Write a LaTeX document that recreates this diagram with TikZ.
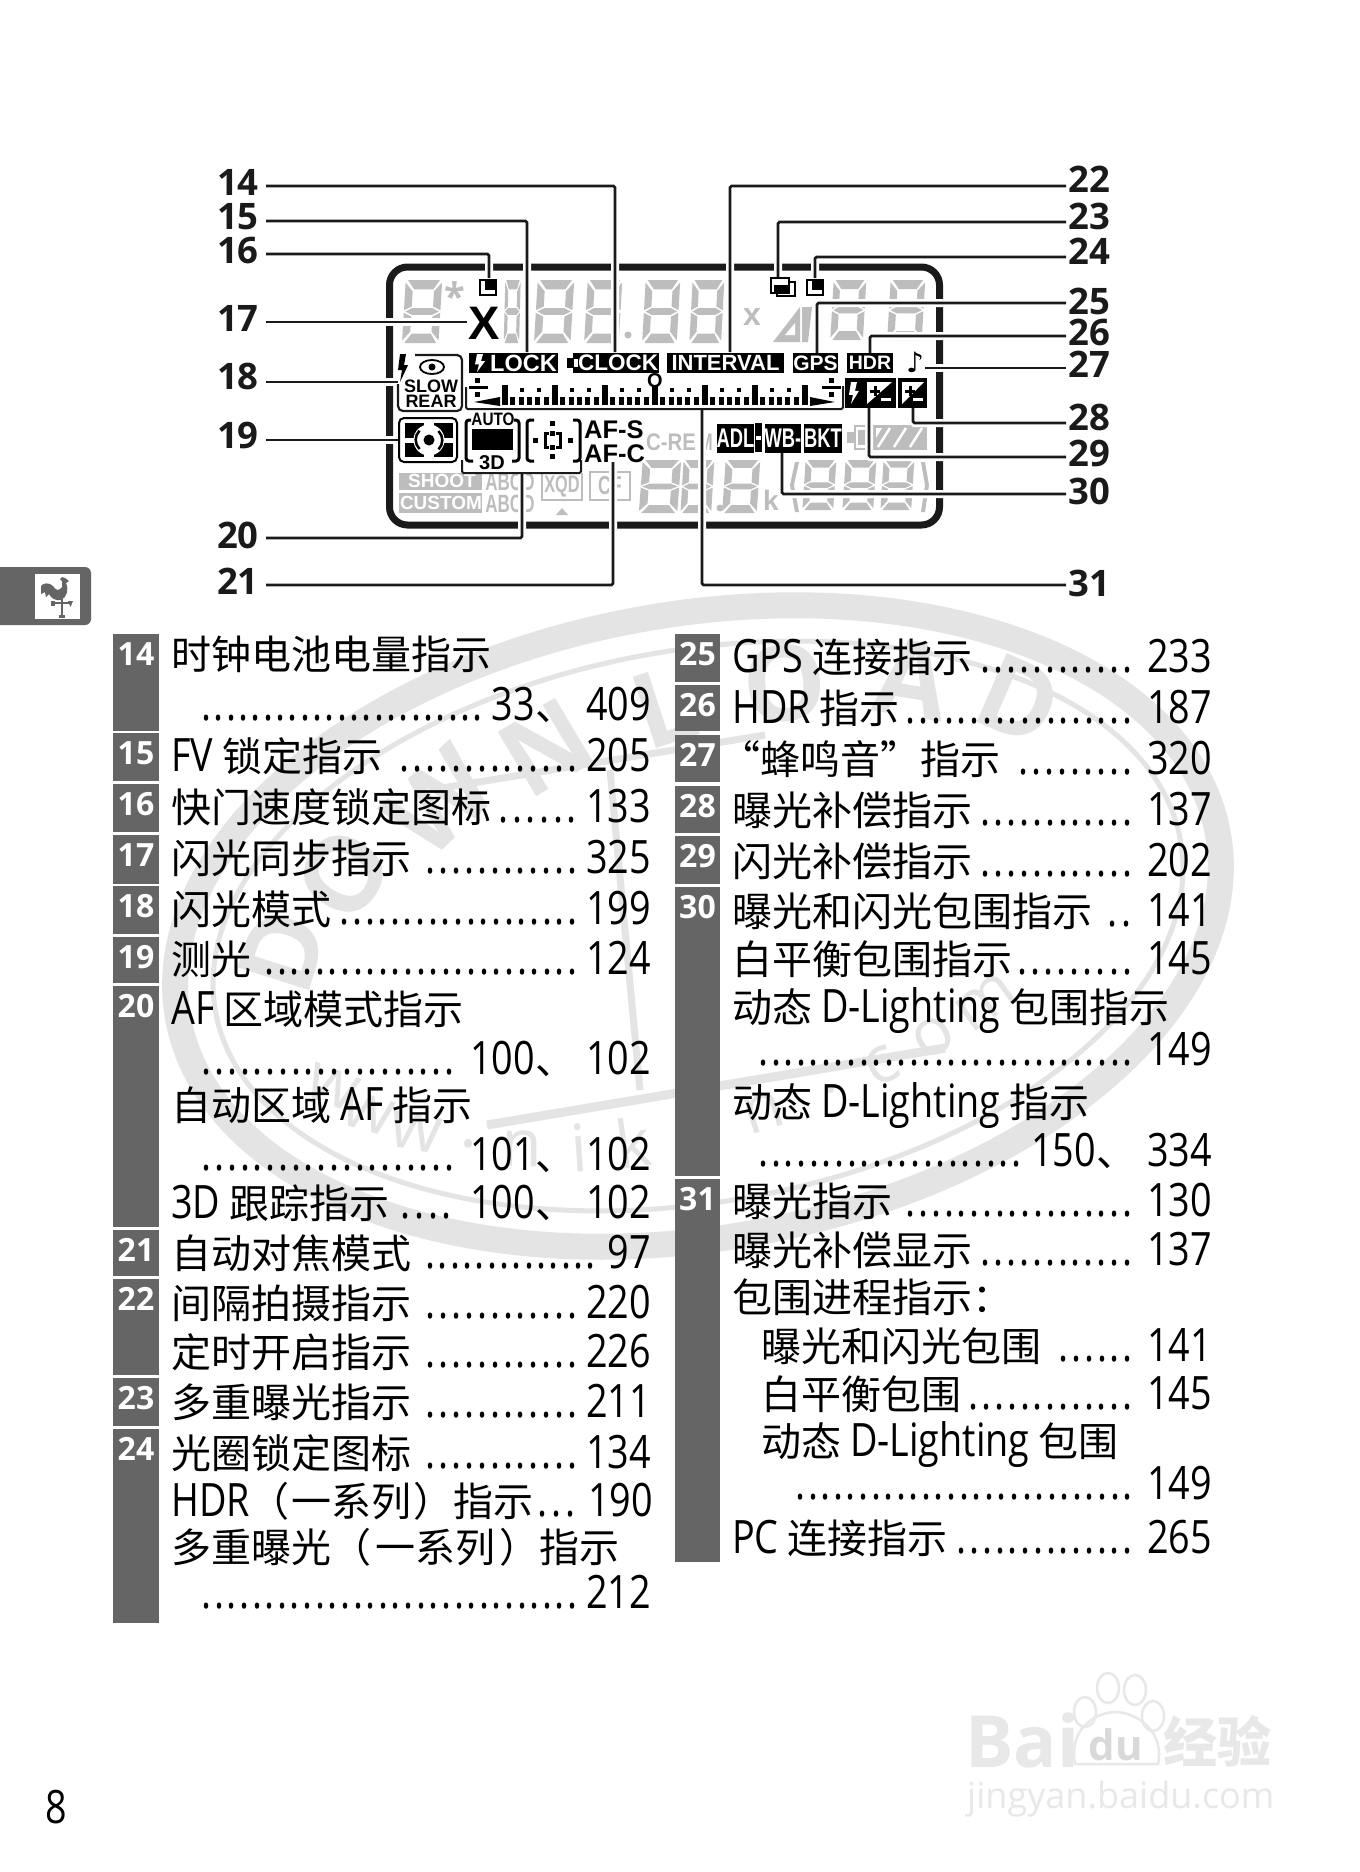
\documentclass[tikz,border=0pt]{standalone}
\usepackage{fontspec}
\setmainfont{Open Sans}
\newfontfamily\nar{Open Sans}[FakeStretch=0.82]
\newfontfamily\cj{Noto Sans CJK SC}
\newfontfamily\lcd{Liberation Sans}
\newfontfamily\lcdc{Liberation Sans}[FakeStretch=0.85]
\newfontfamily\lcdn{Liberation Sans}[FakeStretch=0.68]
\newfontfamily\opn{Open Sans}
\definecolor{seg}{HTML}{BDBDBD}
\definecolor{wm}{HTML}{E4E4E4}
\definecolor{barc}{HTML}{656565}
\definecolor{ink}{HTML}{1A1A1A}
\newcounter{ni}
\newcommand{\ltn}[1]{{\nar\fontsize{46}{46}\selectfont #1}}
\newcommand{\dun}{{\cj\fontsize{40}{40}\selectfont 、}\hspace{11pt}}
\tikzset{
  lab/.style={inner sep=0pt,anchor=base west,font=\cj\fontsize{40}{40}\selectfont,text=black},
  pagen/.style={inner sep=0pt,anchor=base east,font=\nar\fontsize{46}{46}\selectfont,text=black},
  dotsn/.style={inner sep=0pt,anchor=base west,font=\nar\fontsize{46}{46}\selectfont,text=black},
  barn/.style={inner sep=0pt,anchor=base,font=\opn\bfseries\fontsize{32}{32}\selectfont,text=white},
  calln/.style={inner sep=0pt,font=\opn\bfseries\fontsize{36.5}{36.5}\selectfont,text=ink},
  conn/.style={draw=ink,line width=2.6pt,rounded corners=1.5pt,preaction={draw=white,line width=8pt}},
  thinb/.style={draw=ink,line width=2pt,rounded corners=1.5pt},
  blk/.style={fill=black,text=white,inner sep=0pt,font=\lcd\bfseries\fontsize{22}{22}\selectfont},
  grayt/.style={inner sep=0pt,text=seg,font=\lcd\bfseries\fontsize{22}{22}\selectfont},
  blkt/.style={inner sep=0pt,text=black,font=\lcd\bfseries\fontsize{18}{18}\selectfont},
  wmt/.style={inner sep=0pt,text=wm,font=\opn\bfseries\fontsize{105}{105}\selectfont},
  wmu/.style={inner sep=0pt,text=wm,font=\opn\fontsize{66}{66}\selectfont},
  bd/.style={inner sep=0pt,text=black!9,font=\opn\bfseries\fontsize{72}{72}\selectfont},
}
\newcommand{\ent}[3]{\stepcounter{ni}\node[lab] (t\arabic{ni}) at (#2,#1) {#3};}
\newcommand{\pg}[3]{\stepcounter{ni}\node[pagen] (t\arabic{ni}) at (#2,#1) {#3};}
\newcommand{\dts}[3]{\stepcounter{ni}\pgfmathsetmacro{\dw}{#3-#2}\node[dotsn] (t\arabic{ni}) at (#2,#1) {\hbox to \dw pt{\xleaders\hbox to 12.3pt{\hss.\hss}\hfill}};}
\newcommand{\barr}[5]{\fill[barc] (#1,#2) rectangle (#3,#4);\stepcounter{ni}\node[barn] (t\arabic{ni}) at ({(#1+#3)/2},{#2+31}) {#5};}
\newcommand{\segd}[4]{\begin{scope}[shift={(#1,#2)},xscale=#3/100,yscale=#4/100,xslant=0.1]
\fill[seg] (8,0)--(92,0)--(76,15)--(26,15)--cycle;
\fill[seg] (8,100)--(92,100)--(76,85)--(26,85)--cycle;
\fill[seg] (2,4)--(22,18)--(22,42)--(2,48)--cycle;
\fill[seg] (98,4)--(78,18)--(78,42)--(98,48)--cycle;
\fill[seg] (6,50)--(24,44.5)--(76,44.5)--(94,50)--(76,55.5)--(24,55.5)--cycle;
\fill[seg] (2,52)--(22,58)--(22,82)--(2,96)--cycle;
\fill[seg] (98,52)--(78,58)--(78,82)--(98,96)--cycle;
\end{scope}}
\newcommand{\flashb}[4]{\fill[#4] (#1,#2) ++(3,0) -- ++(6,0) -- ++(-2,{#3*.4}) -- ++(4,0) -- ++(-8,{#3*.6}) -- ++(2,{-#3*.42}) -- ++(-4,0) -- cycle;}
\newcommand{\pmbox}[4]{% white upper-left triangle with black plus, white minus on black
\fill[white] (#1,#2) -- (#3,#2) -- (#1,#4) -- cycle;
\fill[black] ({#1+3},{#2+7.5}) rectangle ({#1+13},{#2+10.5});
\fill[black] ({#1+6.5},{#2+4}) rectangle ({#1+9.5},{#2+14});
\fill[white] ({#3-11},{#4-6}) rectangle ({#3-1},{#4-3});}
\begin{document}
\begin{tikzpicture}[x=1pt,y=-1pt]
\useasboundingbox (0,0) rectangle (1360,1872);
\fill[white] (0,0) rectangle (1360,1872);
% ---- background watermark
\begin{scope}[shift={(698,926)},rotate=10]
\draw[wm,line width=26pt] (0,0) ellipse [x radius=528,y radius=312];
\draw[wm,line width=5pt] (0,0) ellipse [x radius=490,y radius=276];
\end{scope}
\draw[wm,line width=9pt] (487,1125) -- (945,1048);
\draw[wm,line width=7pt] (442,788) -- (765,735);
\draw[wm,line width=7pt] (610,770) -- (640,1090);
\foreach \a/\c/\k in {168/D/1,150/O/2,132/W/3,116/N/4,100/L/5,84/O/6,66/A/7,48/D/8}{
  \pgfmathsetmacro{\px}{698+440*cos(\a)*cos(10)+240*sin(\a)*sin(10)}
  \pgfmathsetmacro{\py}{926-440*cos(\a)*sin(10)-240*sin(\a)*cos(10)}
  \pgfmathsetmacro{\rt}{(\a-90)*0.8+10}
  \node[wmt,rotate=\rt] (wma\k) at (\px,\py) {\c};
}
\foreach \a/\c/\k in {208/w/1,219/w/2,230/w/3,240/./4,249/n/5,258/i/6,266/k/7,275/o/8,285/n/9,295/./10,303/c/11,312/o/12,322/m/13}{
  \pgfmathsetmacro{\px}{698+400*cos(\a)*cos(10)+215*sin(\a)*sin(10)}
  \pgfmathsetmacro{\py}{926-400*cos(\a)*sin(10)-215*sin(\a)*cos(10)}
  \pgfmathsetmacro{\rt}{(\a-270)*0.5+10}
  \node[wmu,rotate=\rt] (wmb\k) at (\px,\py) {\c};
}
% ---- Baidu mark
\node[bd,anchor=base west] (bai) at (965,1767) {Bai};
\begin{scope}[black!9,line width=2.5pt]
\draw (1075,1764) .. controls (1068,1725) and (1100,1712) .. (1115,1712) .. controls (1135,1712) and (1165,1730) .. (1158,1764) -- cycle;
\draw (1085,1712) ellipse [x radius=11,y radius=15];
\draw (1108,1688) ellipse [x radius=11,y radius=15];
\draw (1135,1690) ellipse [x radius=11,y radius=15];
\draw (1153,1716) ellipse [x radius=11,y radius=15];
\end{scope}
\node[inner sep=0pt,anchor=base,text=black!15,font=\opn\bfseries\fontsize{42}{42}\selectfont] (du) at (1116,1760) {du};
\node[inner sep=0pt,anchor=base west,text=black!9,font=\cj\bfseries\fontsize{54}{54}\selectfont] (jy) at (1163,1762) {经验};
\node[inner sep=0pt,anchor=base west,text=black!9,font=\opn\fontsize{36}{36}\selectfont] (jyu) at (967,1808) {jingyan.baidu.com};
% ---- side tab
\fill[barc,rounded corners=6pt] (-10,567) rectangle (91,625);
\fill[white] (35,574) rectangle (80,619);
\fill[barc] (41,586) .. controls (43,583) and (49,582) .. (53,586) .. controls (56,591) and (59,591) .. (62,587) -- (62,581) -- (60,579) -- (62,577) -- (65,578) -- (69,581) -- (66,583) .. controls (69,590) and (67,597) .. (61,600) .. controls (55,601) and (51,598) .. (49,594) -- (46,597) -- (45,592) -- (41,594) -- cycle;
\draw[barc,line width=1.4pt] (62,598) -- (62,615) (53,603) -- (72,603);
\fill[barc] (59,615) rectangle (65,618);
\fill[barc] (51,601) rectangle (55,606);
\fill[barc] (68,601) -- (73,601) -- (70.5,607) -- cycle;
% ---- gray LCD
\foreach \x/\y/\w/\h in {405/280/38/63, 505/280/16/63, 537/280/38/63, 587/280/36/63, 645/280/36/63, 692/280/33/63, 833/280/34/60, 890/280/36/60, 642/460/40/53, 683/460/32/53, 725/460/36/53, 805/460/32/50, 845/460/32/50, 883/460/32/50}{\segd{\x}{\y}{\w}{\h}}
\fill[seg] (628,335) circle (3.5);
\fill[seg] (720,508) circle (3.5);
\node[grayt,font=\opn\bfseries\fontsize{38}{38}\selectfont,anchor=center] (star) at (455,296) {*};
\node[grayt,font=\lcd\bfseries\fontsize{32}{32}\selectfont] (xm) at (752,317) {x};
\fill[seg] (773,342) -- (800,307) -- (800,342) -- cycle;
\fill[white] (785,335) -- (795,323) -- (795,335) -- cycle;
\fill[seg] (802,307) -- (812,307) -- (808,342) -- (802,342) -- cycle;
\node[grayt,font=\lcdc\bfseries\fontsize{24}{24}\selectfont] (cre) at (671,442) {C-RE};
\node[grayt,font=\lcdn\bfseries\fontsize{24}{24}\selectfont] (mm) at (706,442) {M};
\fill[seg] (399,473) rectangle (482,490);
\fill[seg] (399,493) rectangle (482,513);
\node[inner sep=0pt,text=white,font=\lcd\bfseries\fontsize{19}{19}\selectfont] (shoot) at (442,481) {SHOOT};
\node[inner sep=0pt,text=white,font=\lcd\bfseries\fontsize{19}{19}\selectfont] (custom) at (441,503) {CUSTOM};
\node[grayt,font=\lcdn\bfseries\fontsize{25}{25}\selectfont] (abcd1) at (510,482) {ABCD};
\node[grayt,font=\lcdn\bfseries\fontsize{25}{25}\selectfont] (abcd2) at (510,504) {ABCD};
\draw[seg,line width=2pt] (542,473) -- (542,500) -- (582,500) -- (582,473);
\node[grayt,font=\lcdn\bfseries\fontsize{24}{24}\selectfont] (xqd) at (562,486) {XQD};
\fill[seg] (556,515) -- (568,515) -- (562,508) -- cycle;
\draw[seg,line width=2pt] (590,472) rectangle (630,500);
\node[grayt,font=\lcdn\bfseries\fontsize{26}{26}\selectfont] (cf) at (610,486) {CF};
\fill[seg] (795,462) -- (790,485) -- (795,512) -- (799,512) -- (794,485) -- (799,462) -- cycle;
\fill[seg] (925,462) -- (929,485) -- (925,512) -- (921,512) -- (925,485) -- (921,462) -- cycle;
\node[grayt,font=\lcd\bfseries\fontsize{28}{28}\selectfont] (kk) at (771,500) {k};
% battery
\fill[seg] (847,432) rectangle (854,443);
\draw[seg,line width=2pt] (855,426) rectangle (869,449);
\fill[seg] (858,430) rectangle (866,445);
\fill[seg] (873,425) rectangle (927,450);
\foreach \x in {884,900,916}{\draw[white,line width=2.5pt] (\x+6,428) -- (\x-6,447);}
\fill[white] (876,428) -- (882,428) -- (876,438) -- cycle;
% ---- frame
\draw[ink,line width=7pt,rounded corners=18pt] (389.5,267) rectangle (939.5,525);
% ---- connectors
\coordinate (l14) at (266,186); \coordinate (e14) at (615,352);
\coordinate (l15) at (266,221); \coordinate (e15) at (527,352);
\coordinate (l16) at (266,254); \coordinate (e16) at (489,278);
\coordinate (l17) at (266,322); \coordinate (e17) at (467,322);
\coordinate (l18) at (266,382); \coordinate (e18) at (398,382);
\coordinate (l19) at (266,440); \coordinate (e19) at (398,440);
\coordinate (l20) at (266,538); \coordinate (e20) at (522,473);
\coordinate (l21) at (266,585); \coordinate (e21) at (613,462);
\coordinate (r22) at (1066,186); \coordinate (e22) at (730,352);
\coordinate (r23) at (1066,222); \coordinate (e23) at (778,277);
\coordinate (r24) at (1066,257); \coordinate (e24) at (815,278);
\coordinate (r25) at (1066,303); \coordinate (e25) at (817,353);
\coordinate (r26) at (1066,336); \coordinate (e26) at (870,353);
\coordinate (r27) at (1066,368); \coordinate (e27) at (925,368);
\coordinate (r28) at (1066,423); \coordinate (e28) at (913,408);
\coordinate (r29) at (1066,457); \coordinate (e29) at (869,408);
\coordinate (r30) at (1066,494); \coordinate (e30) at (782,453);
\coordinate (r31) at (1066,585); \coordinate (e31) at (702,409);
\draw[conn] (l14) -| (e14);
\draw[conn] (l15) -| (e15);
\draw[conn] (l16) -| (e16);
\draw[conn] (l17) -- (e17);
\draw[conn] (l18) -- (e18);
\draw[conn] (l19) -- (e19);
\draw[conn] (l20) -| (e20);
\draw[conn] (l21) -| (e21);
\draw[conn] (r22) -| (e22);
\draw[conn] (r23) -| (e23);
\draw[conn] (r24) -| (e24);
\draw[conn] (r25) -| (e25);
\draw[conn] (r26) -| (e26);
\draw[conn] (r27) -- (e27);
\draw[conn] (r28) -| (e28);
\draw[conn] (r29) -| (e29);
\draw[conn] (r30) -| (e30);
\draw[conn] (r31) -| (e31);
\draw[thinb] (466,387) -- (466,409) -- (843,409) -- (843,386);
\draw[thinb] (462,460) -- (462,473) -- (581,473) -- (581,460);
% ---- callout numbers
\foreach \n/\y in {14/182,15/217,16/250,17/318,18/376,19/435,20/535,21/581}{\node[calln,anchor=east] (n\n) at (259,\y) {\n};}
\foreach \n/\y in {22/179,23/216,24/251,25/301,26/332,27/364,28/417,29/453,30/491,31/583}{\node[calln,anchor=west] (n\n) at (1068,\y) {\n};}
% ---- black LCD icons
\draw[black,line width=2pt] (480,280) rectangle (496,295);
\fill[black] (485,280) rectangle (496,290);
\node[inner sep=0pt,text=black,anchor=center,font=\lcd\bfseries\fontsize{47}{47}\selectfont] (xbig) at (484,323.5) {X};
\node[blk,minimum width=89pt,minimum height=20pt,font=\lcd\bfseries\fontsize{23.5}{23.5}\selectfont] (lock) at (513.5,363) {\hspace{20pt}LOCK};
\flashb{474}{354}{18}{white}
\node[blk,minimum width=86pt,minimum height=20pt,font=\lcd\bfseries\fontsize{22.5}{22.5}\selectfont] (clock) at (616,363) {\hspace{4pt}CLOCK};
\fill[black] (567,358) rectangle (573,368);
\fill[white] (574,359) rectangle (578,367);
\node[blk,minimum width=117pt,minimum height=20pt] (interval) at (725.5,363) {INTERVAL};
\node[blk,minimum width=45pt,minimum height=20pt,font=\lcd\bfseries\fontsize{21}{21}\selectfont] (gps) at (815.5,363) {GPS};
\node[blk,minimum width=46pt,minimum height=20pt,font=\lcd\bfseries\fontsize{19.5}{19.5}\selectfont] (hdr) at (870,363) {HDR};
\node[inner sep=0pt,text=black,font=\fontspec{DejaVu Sans}\fontsize{28}{28}\selectfont] (note) at (915,362) {♪};
\draw[black,line width=2pt] (777,282) rectangle (795,296);
\draw[black,line width=2pt,fill=white] (771,278) rectangle (789,293);
\fill[black] (774,285) rectangle (789,293);
\draw[black,line width=2pt] (807,280) rectangle (823,295);
\fill[black] (812,280) rectangle (823,290);
% flash mode
\flashb{397}{354}{28}{black}
\draw[thinb,line width=2.2pt,rounded corners=5pt] (415,355) -- (462,355) -- (462,411) -- (398,411) -- (398,384);
\draw[black,line width=1.8pt] (432,367) ellipse [x radius=12,y radius=7];
\fill[black] (432,367) circle (3.5);
\node[blkt] (slow) at (431,386) {SLOW};
\node[blkt] (rear) at (431,401) {REAR};
% exposure scale
\foreach \i in {0,...,36}{\fill[black] ({502+\i*8.33},397) rectangle ({507+\i*8.33},405);}
\foreach \i in {0,...,18}{\fill[black] ({503.5+\i*16.67},388) rectangle ({507.5+\i*16.67},392);}
\foreach \i in {0,...,6}{\fill[black] ({502+\i*50},385) rectangle ({508+\i*50},405);}
\fill[black] (474,402) -- (500,397) -- (500,406) -- cycle;
\fill[black] (835,402) -- (810,397) -- (810,406) -- cycle;
\fill[black] (469,386) rectangle (488,388.5);
\fill[black] (475,378) rectangle (480,383);
\fill[black] (475,392) rectangle (480,397);
\fill[black] (822,386) rectangle (841,388.5);
\fill[black] (829,378) rectangle (834,383);
\fill[black] (829,392) rectangle (834,397);
\node[inner sep=0pt,text=black,font=\lcd\bfseries\fontsize{20}{20}\selectfont] (zero) at (655,381) {O};
% metering
\draw[black,line width=2pt,rounded corners=5pt] (399,418) rectangle (457,462);
\fill[black] (405,423) rectangle (453,457);
\fill[white] (405,437.5) rectangle (453,442.5);
\fill[white] (423.5,423) rectangle (433.5,457);
\fill[white] (429,440) circle (15.5);
\draw[black,line width=2.5pt] (419.5,449) arc (135:225:13);
\draw[black,line width=2.5pt] (438.5,431) arc (-45:45:13);
\fill[black] (429,440) circle (5.5);
% AF area
\draw[black,line width=3pt,rounded corners=3pt] (471,420) -- (466,420) -- (466,461) -- (473,461);
\draw[black,line width=3pt,rounded corners=3pt] (514,420) -- (519,420) -- (519,461) -- (512,461);
\fill[black] (472,429) rectangle (513,450);
\node[blkt,font=\lcdc\bfseries\fontsize{18}{18}\selectfont] (auto) at (493,419) {AUTO};
\node[blk,fill=white,text=black,inner xsep=2pt,font=\lcd\bfseries\fontsize{20}{20}\selectfont] (td) at (492,463) {3D};
\draw[black,line width=3pt,rounded corners=3pt] (534,420) -- (527,420) -- (527,461) -- (534,461);
\draw[black,line width=3pt,rounded corners=3pt] (573,420) -- (580,420) -- (580,461) -- (573,461);
\foreach \x/\y in {552/423,552/433,552/447,552/456,535/440,570/440}{\fill[black] (\x-2.5,\y-2.5) rectangle (\x+2.5,\y+2.5);}
\draw[black,line width=3pt] (549,433) -- (545,433) -- (545,447) -- (549,447);
\draw[black,line width=3pt] (556,433) -- (560,433) -- (560,447) -- (556,447);
\node[blkt,anchor=west,font=\lcd\bfseries\fontsize{25.5}{25.5}\selectfont] (afs) at (584,430) {AF-S};
\node[blkt,anchor=west,font=\lcd\bfseries\fontsize{25.5}{25.5}\selectfont] (afc) at (584,454) {AF-C};
% +/- icons
\fill[black] (845,378) rectangle (896,408);
\flashb{848}{382}{22}{white}
\pmbox{867}{382}{892}{404}
\fill[black] (898,378) rectangle (927,408);
\pmbox{902}{382}{924}{404}
% bracketing
\node[blk,minimum width=35pt,minimum height=29pt,font=\lcdn\bfseries\fontsize{27}{27}\selectfont] (adl) at (735.5,438) {ADL};
\fill[black] (755,423) rectangle (762,452); \fill[white] (756,436) rectangle (761,440);
\node[blk,minimum width=36pt,minimum height=29pt,font=\lcdn\bfseries\fontsize{27}{27}\selectfont] (wb) at (783,438) {WB-};
\node[blk,minimum width=38pt,minimum height=29pt,font=\lcdn\bfseries\fontsize{27}{27}\selectfont] (bkt) at (823,438) {BKT};
% ---- gray side bars
\barr{113}{634}{159}{731}{14}
\barr{113}{733}{159}{781}{15}
\barr{113}{784}{159}{832}{16}
\barr{113}{835}{159}{884}{17}
\barr{113}{886}{159}{934}{18}
\barr{113}{937}{159}{983}{19}
\barr{113}{986}{159}{1227}{20}
\barr{113}{1230}{159}{1276}{21}
\barr{113}{1279}{159}{1375}{22}
\barr{113}{1378}{159}{1426}{23}
\barr{113}{1429}{159}{1623}{24}
\barr{675}{634}{720}{682}{25}
\barr{675}{685}{720}{731}{26}
\barr{675}{735}{720}{782}{27}
\barr{675}{786}{720}{833}{28}
\barr{675}{836}{720}{884}{29}
\barr{675}{887}{720}{1176}{30}
\barr{675}{1179}{720}{1562}{31}
% ---- left column
\ent{669}{171}{时钟电池电量指示}
\dts{720}{200}{484}\pg{720}{651}{33\dun 409}
\ent{771}{171}{\ltn{FV} 锁定指示}\dts{771}{398}{579}\pg{771}{651}{205}
\ent{822}{171}{快门速度锁定图标}\dts{822}{496}{579}\pg{822}{651}{133}
\ent{873}{171}{闪光同步指示}\dts{873}{424}{579}\pg{873}{651}{325}
\ent{924}{171}{闪光模式}\dts{924}{338}{579}\pg{924}{651}{199}
\ent{974}{171}{测光}\dts{974}{263}{579}\pg{974}{651}{124}
\ent{1024}{171}{\ltn{AF} 区域模式指示}
\dts{1074}{200}{456}\pg{1074}{651}{100\dun 102}
\ent{1120}{171}{自动区域 \ltn{AF} 指示}
\dts{1170}{200}{456}\pg{1170}{651}{101\dun 102}
\ent{1218}{171}{\ltn{3D} 跟踪指示}\dts{1218}{398}{454}\pg{1218}{651}{100\dun 102}
\ent{1268}{171}{自动对焦模式}\dts{1268}{424}{597}\pg{1268}{651}{97}
\ent{1318}{171}{间隔拍摄指示}\dts{1318}{424}{579}\pg{1318}{651}{220}
\ent{1367}{171}{定时开启指示}\dts{1367}{424}{579}\pg{1367}{651}{226}
\ent{1417}{171}{多重曝光指示}\dts{1417}{424}{579}\pg{1417}{651}{211}
\ent{1468}{171}{光圈锁定图标}\dts{1468}{424}{579}\pg{1468}{651}{134}
\ent{1516}{171}{\ltn{HDR}（\hspace{2pt}一系列\hspace{2pt}）指示}\dts{1516}{534}{579}\pg{1516}{653}{190}
\ent{1562}{171}{多重曝光（\hspace{4pt}一系列\hspace{4pt}）指示}
\dts{1608}{200}{579}\pg{1608}{651}{212}
% ---- right column
\ent{672}{732}{\ltn{GPS} 连接指示}\dts{672}{979}{1134}\pg{672}{1212}{233}
\ent{723}{732}{\ltn{HDR} 指示}\dts{723}{904}{1134}\pg{723}{1212}{187}
\ent{774}{720}{“蜂鸣音”指示}\dts{774}{1017}{1134}\pg{774}{1212}{320}
\ent{825}{732}{曝光补偿指示}\dts{825}{979}{1134}\pg{825}{1212}{137}
\ent{876}{732}{闪光补偿指示}\dts{876}{979}{1134}\pg{876}{1212}{202}
\ent{926}{732}{曝光和闪光包围指示}\dts{926}{1104}{1134}\pg{926}{1212}{141}
\ent{974}{732}{白平衡包围指示}\dts{974}{1015}{1134}\pg{974}{1212}{145}
\ent{1022}{732}{动态 \ltn{D-Lighting} 包围指示}
\dts{1065}{757}{1134}\pg{1065}{1212}{149}
\ent{1117}{732}{动态 \ltn{D-Lighting} 指示}
\dts{1166}{757}{1023}\pg{1166}{1212}{150\dun 334}
\ent{1216}{732}{曝光指示}\dts{1216}{904}{1134}\pg{1216}{1212}{130}
\ent{1265}{732}{曝光补偿显示}\dts{1265}{979}{1134}\pg{1265}{1212}{137}
\ent{1312}{732}{包围进程指示：}
\ent{1361}{761}{曝光和闪光包围}\dts{1361}{1057}{1134}\pg{1361}{1212}{141}
\ent{1409}{761}{白平衡包围}\dts{1409}{967}{1134}\pg{1409}{1212}{145}
\ent{1456}{761}{动态 \ltn{D-Lighting} 包围}
\dts{1499}{794}{1134}\pg{1499}{1212}{149}
\ent{1553}{732}{\ltn{PC} 连接指示}\dts{1553}{955}{1134}\pg{1553}{1212}{265}
% ---- page number
\node[pagen] (pageno) at (67,1823) {8};
\end{tikzpicture}
\end{document}
